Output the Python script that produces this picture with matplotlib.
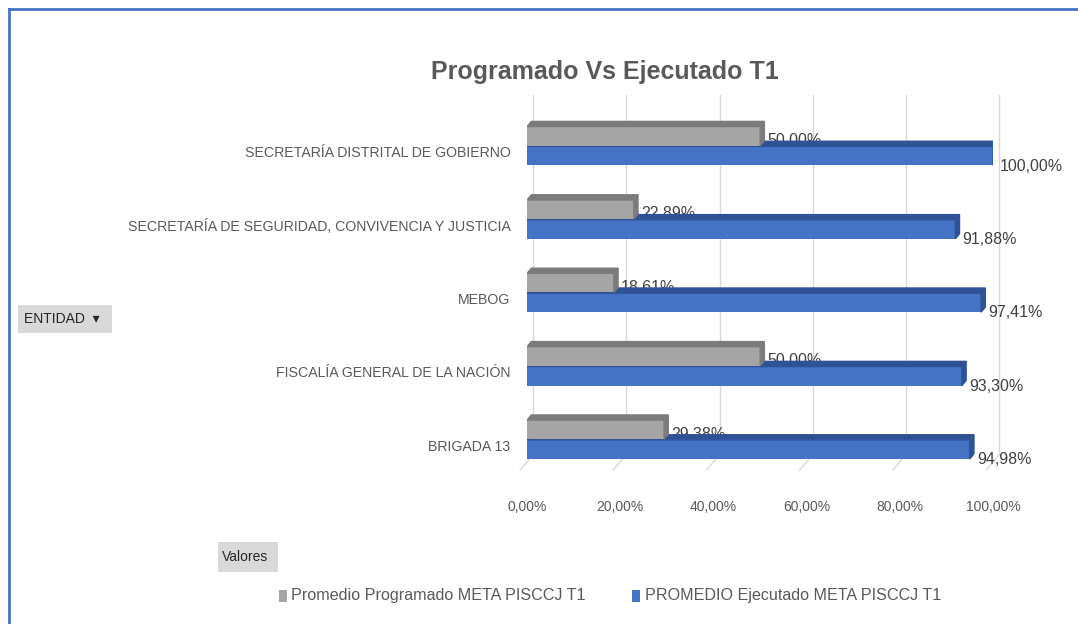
import numpy as np
import matplotlib.pyplot as plt
from matplotlib.patches import Polygon, Rectangle

plt.rcParams['font.family'] = ['Liberation Sans', 'DejaVu Sans']

# datos
entidades = ["SECRETARÍA DISTRITAL DE GOBIERNO",
             "SECRETARÍA DE SEGURIDAD, CONVIVENCIA Y JUSTICIA",
             "MEBOG",
             "FISCALÍA GENERAL DE LA NACIÓN",
             "BRIGADA 13"]
programado = [50.00, 22.89, 18.61, 50.00, 29.38]
ejecutado = [100.00, 91.88, 97.41, 93.30, 94.98]
ticks = [0, 20, 40, 60, 80, 100]

gris, gris_osc = "#A5A5A5", "#7B7B7B"
azul, azul_osc = "#4472C4", "#2F5196"
texto = "#595959"

fig = plt.figure(figsize=(10.78, 6.24), dpi=100)
ax = fig.add_axes([0.489, 0.228, 0.4323, 0.588])

pos = np.arange(len(entidades))[::-1]
h = 0.26
dx, dy = 0.9, 0.07  # profundidad 3D (unidades de datos)


def barra3d(y0, v, c, c_osc, z):
    ax.barh(y0, v, height=h, align='edge', color=c, zorder=z)
    top = y0 + h
    ax.add_patch(Polygon([(0, top), (v, top), (v + dx, top + dy), (dx, top + dy)],
                         closed=True, color=c_osc, zorder=z))
    ax.add_patch(Polygon([(v, y0), (v, top), (v + dx, top + dy), (v + dx, y0 + dy)],
                         closed=True, color=c_osc, zorder=z))


for p, vp, ve in zip(pos, programado, ejecutado):
    barra3d(p - 0.19, ve, azul, azul_osc, 3)
    barra3d(p + 0.08, vp, gris, gris_osc, 3.5)
    ax.text(vp + dx + 0.6, p + 0.15, f"{vp:.2f}%".replace(".", ","),
            va='center', ha='left', fontsize=11.5, color="#404040", zorder=2.8)
    ax.text(ve + dx + 0.6, p - 0.2, f"{ve:.2f}%".replace(".", ","),
            va='center', ha='left', fontsize=11.5, color="#404040", zorder=4)

# líneas de cuadrícula (pared del fondo 3D)
for t in ticks:
    ax.plot([t + 1.3, t + 1.3], [-0.13, 4.77], color="#D9D9D9", lw=1, zorder=1, clip_on=False)
    ax.plot([t + 1.3, t - 1.5], [-0.13, -0.34], color="#D9D9D9", lw=1, zorder=1, clip_on=False)

ax.set_xlim(0, 100)
ax.set_ylim(-0.5, 4.5)
ax.set_xticks(ticks)
ax.set_xticklabels([f"{t:.2f}%".replace(".", ",") for t in ticks], fontsize=10, color=texto)
ax.set_yticks(pos)
ax.set_yticklabels(entidades, fontsize=10.2, color=texto)
ax.tick_params(axis='both', length=0)
ax.tick_params(axis='x', pad=13)
ax.tick_params(axis='y', pad=12)
for s in ax.spines.values():
    s.set_visible(False)

fig.text(0.561, 0.884, "Programado Vs Ejecutado T1", ha='center', va='center',
         fontsize=18, fontweight='bold', color=texto)

# marco azul
fig.add_artist(plt.Line2D([0.008, 1.0], [0.985, 0.985], color="#4472C4", linewidth=2))
fig.add_artist(plt.Line2D([0.008, 0.008], [0.0, 0.985], color="#4472C4", linewidth=2))

# botones de tabla dinámica
fig.add_artist(Rectangle((0.017, 0.466), 0.087, 0.045, facecolor="#D9D9D9", edgecolor="none"))
fig.text(0.022, 0.489, "ENTIDAD  ▾", fontsize=10, color="#262626", va='center')
fig.add_artist(Rectangle((0.202, 0.083), 0.056, 0.048, facecolor="#D9D9D9", edgecolor="none"))
fig.text(0.206, 0.107, "Valores", fontsize=10, color="#262626", va='center')

# leyenda
fig.add_artist(Rectangle((0.2585, 0.036), 0.0075, 0.018, facecolor=gris, edgecolor="none"))
fig.text(0.270, 0.045, "Promedio Programado META PISCCJ T1", fontsize=11.6, color=texto, va='center')
fig.add_artist(Rectangle((0.586, 0.036), 0.0075, 0.018, facecolor=azul, edgecolor="none"))
fig.text(0.598, 0.045, "PROMEDIO Ejecutado META PISCCJ T1", fontsize=11.6, color=texto, va='center')

fig.savefig("out.png", dpi=100)
